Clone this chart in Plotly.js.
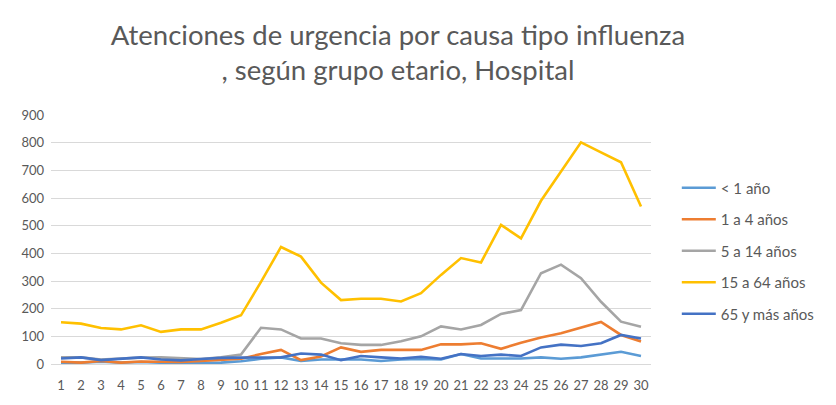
<!DOCTYPE html>
<html>
<head>
<meta charset="utf-8">
<script src="https://cdn.plot.ly/plotly-3.0.1.min.js"></script>
<style>html,body{margin:0;padding:0;background:#fff;}#chart{width:836px;height:405px;}</style>
</head>
<body>
<div id="chart"></div>
<script>
const categories = [1,2,3,4,5,6,7,8,9,10,11,12,13,14,15,16,17,18,19,20,21,22,23,24,25,26,27,28,29,30];
const seriesNames = ["< 1 año", "1 a 4 años", "5 a 14 años", "15 a 64 años", "65 y más años"];
const menor1 = [5,5,8,5,7,5,2,3,5,10,19,24,11,16,16,16,11,16,18,16,36,20,20,20,24,19,24,34,44,29];
const de1a4 = [8,5,11,5,9,8,7,11,14,19,36,51,14,27,60,44,51,51,51,71,71,75,55,77,96,111,131,152,105,81];
const de5a14 = [24,24,16,20,23,24,21,18,24,34,131,125,92,92,75,69,69,82,100,136,125,141,181,195,328,359,310,225,153,135];
const de15a64 = [151,146,130,125,140,116,125,125,149,176,297,423,388,294,231,236,236,226,256,322,383,367,503,454,590,696,801,765,729,569];
const mayor65 = [20,24,14,19,24,16,13,18,22,23,23,24,38,34,14,29,24,20,26,19,36,29,34,29,60,70,65,75,105,92];
const colors = ["#5B9BD5", "#ED7D31", "#A5A5A5", "#FFC000", "#4472C4"];
const allSeries = [menor1, de1a4, de5a14, de15a64, mayor65];
const yTicks = [0,100,200,300,400,500,600,700,800,900];

const traces = allSeries.map((vals, i) => ({
  x: categories,
  y: vals,
  name: seriesNames[i],
  type: "scatter",
  mode: "lines",
  legendgroup: "g" + i,
  line: {color: colors[i], width: 2.6},
  hoverinfo: "skip"
}));
const fontFam = "Lato, 'Open Sans', sans-serif";
const layout = {
  width: 836, height: 405,
  margin: {l: 51, r: 185, t: 115, b: 41},
  paper_bgcolor: "#ffffff",
  plot_bgcolor: "#ffffff",
  title: {
    text: "Atenciones de urgencia por causa tipo influenza<br>, según grupo etario, Hospital",
    font: {family: fontFam, size: 27.5, color: "#595959"},
    x: 0.476, xanchor: "center",
    y: 0.89, yanchor: "top",
    xref: "container", yref: "container"
  },
  xaxis: {
    type: "linear",
    range: [0.5, 30.5],
    tickvals: categories,
    ticktext: categories.map(String),
    showgrid: false,
    zeroline: false,
    showline: false,
    ticks: "",
    ticklabelstandoff: 12,
    tickfont: {family: fontFam, size: 13, color: "#595959"},
    fixedrange: true
  },
  yaxis: {
    range: [0, 900],
    tickvals: yTicks,
    ticktext: yTicks.map(String),
    showgrid: true,
    gridcolor: "#D9D9D9",
    gridwidth: 1,
    zeroline: true,
    zerolinecolor: "#D9D9D9",
    zerolinewidth: 1,
    showline: false,
    ticks: "",
    ticklabelstandoff: 6,
    tickfont: {family: fontFam, size: 13, color: "#595959"},
    fixedrange: true
  },
  showlegend: true,
  legend: {
    x: 1.043, xanchor: "left",
    y: 0.454, yanchor: "middle",
    font: {family: fontFam, size: 15, color: "#595959"},
    tracegroupgap: 9,
    traceorder: "grouped",
    itemwidth: 34,
    bgcolor: "rgba(0,0,0,0)"
  }
};
Plotly.newPlot("chart", traces, layout, {staticPlot: true, displayModeBar: false});
</script>
</body>
</html>
